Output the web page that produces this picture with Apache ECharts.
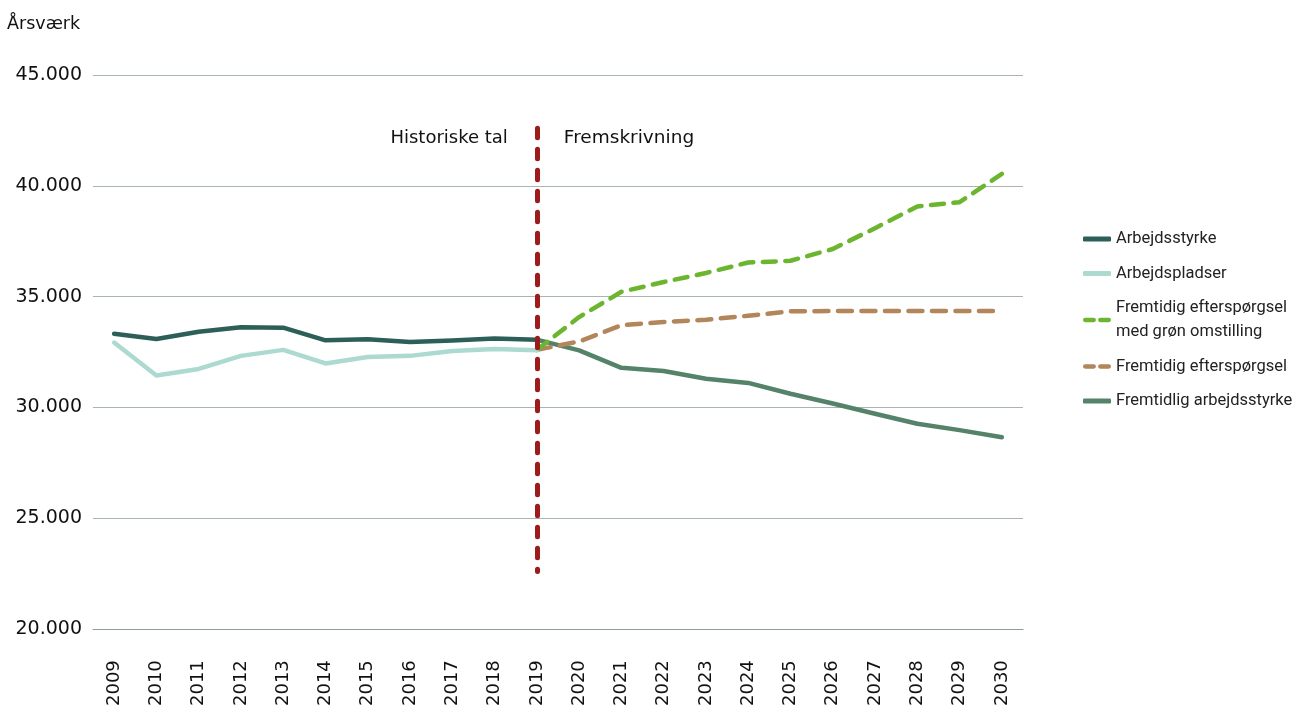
<!DOCTYPE html>
<html>
<head>
<meta charset="utf-8">
<script src="https://cdn.jsdelivr.net/npm/echarts@6/dist/echarts.min.js"></script>
<style>html,body{margin:0;padding:0;background:#fff}#c{width:1309px;height:709px}</style>
</head>
<body>
<div id="c"></div>
<script>
const years = ['2009','2010','2011','2012','2013','2014','2015','2016','2017','2018','2019','2020','2021','2022','2023','2024','2025','2026','2027','2028','2029','2030'];
const arbejdsstyrke = [33330,33090,33420,33620,33600,33030,33080,32960,33020,33110,33060,null,null,null,null,null,null,null,null,null,null,null];
const arbejdspladser = [32930,31440,31740,32330,32600,31990,32280,32330,32550,32640,32580,null,null,null,null,null,null,null,null,null,null,null];
const groenEfterspoergsel = [null,null,null,null,null,null,null,null,null,null,32600,34080,35220,35660,36070,36540,36620,37150,38090,39070,39260,40540];
const efterspoergsel = [null,null,null,null,null,null,null,null,null,null,32600,32980,33710,33860,33960,34140,34340,34350,34350,34350,34350,34350];
const fremtidigArbejdsstyrke = [null,null,null,null,null,null,null,null,null,null,33060,32580,31790,31650,31300,31110,30620,30180,29720,29270,28980,28660];
const seriesNames = ['Arbejdsstyrke','Arbejdspladser','Fremtidig efterspørgsel\nmed grøn omstilling','Fremtidig efterspørgsel','Fremtidlig arbejdsstyrke'];
const yTicks = {min:20000, max:45000, interval:5000};
const dividerYear = '2019';
const dividerRange = [42600, 22600];
const annotLeft = 'Historiske tal';
const annotRight = 'Fremskrivning';
const yName = 'Årsværk';

const colors = ['#2c5f57','#acdad0','#6cb52f','#b2855a','#55836a'];
const fmt = v => String(v).replace(/\B(?=(\d{3})+(?!\d))/g, '.');
const chart = echarts.init(document.getElementById('c'));
const dashIcon = 'path://M2,0H10A2,2 0 0 1 10,4H2A2,2 0 0 1 2,0Z M16,0H24A2,2 0 0 1 24,4H16A2,2 0 0 1 16,0Z';
function line(name, data, color, dash, extra){
  return Object.assign({
    name, type:'line', data, symbol:'none', silent:true, connectNulls:false,
    lineStyle:{color, width:4.5, type: dash || 'solid', cap:'round', join:'round'},
    itemStyle:{color}, z: 3
  }, extra||{});
}
chart.setOption({
  animation:false,
  grid:{left:93, right:286, top:75, bottom:79},
  legend:{
    orient:'vertical', left:1078, top:222, itemWidth:28, itemHeight:5, itemGap:10.5,
    textStyle:{fontFamily:'Roboto', fontSize:16.5, color:'#222', lineHeight:24},
    data:[
      {name:seriesNames[0], icon:'roundRect'},
      {name:seriesNames[1], icon:'roundRect'},
      {name:seriesNames[2], icon:dashIcon},
      {name:seriesNames[3], icon:dashIcon},
      {name:seriesNames[4], icon:'roundRect'}
    ]
  },
  xAxis:{
    type:'category', data:years, boundaryGap:true,
    axisLine:{show:true, lineStyle:{color:'#8e9c9a', width:1.2}}, axisTick:{show:false},
    axisLabel:{rotate:90, margin:31, fontFamily:'DejaVu Sans', fontSize:18, color:'#111', interval:0}
  },
  yAxis:{
    type:'value', min:yTicks.min, max:yTicks.max, interval:yTicks.interval,
    axisLine:{show:false}, axisTick:{show:false},
    splitLine:{lineStyle:{color:'#a9b5b3', width:1.2}},
    axisLabel:{formatter:fmt, margin:11, fontFamily:'DejaVu Sans', fontSize:19, color:'#111'}
  },
  series:[
    line(seriesNames[4], fremtidigArbejdsstyrke, colors[4]),
    line(seriesNames[3], efterspoergsel, colors[3], [14,9.5]),
    line(seriesNames[2], groenEfterspoergsel, colors[2], [13,9.5]),
    line(seriesNames[1], arbejdspladser, colors[1]),
    line(seriesNames[0], arbejdsstyrke, colors[0], null, {
      markLine:{
        silent:true, symbol:['none','none'], z:10,
        label:{show:false},
        lineStyle:{color:'#9c1b1b', width:5, type:[9.5,11.5], cap:'round'},
        data:[[{coord:[dividerYear, dividerRange[0]]},{coord:[dividerYear, dividerRange[1]]}]]
      }
    })
  ]
});
const p = chart.convertToPixel({xAxisIndex:0, yAxisIndex:0}, [dividerYear, dividerRange[0]]);
chart.setOption({
  graphic:[
    {type:'text', left:7, top:15, style:{text:yName, fontFamily:'DejaVu Sans', fontSize:17.5, fill:'#111'}},
    {type:'text', x:p[0]-29, y:p[1]+10, style:{text:annotLeft, align:'right', verticalAlign:'middle', fontFamily:'DejaVu Sans', fontSize:18, fill:'#111'}},
    {type:'text', x:p[0]+27, y:p[1]+10, style:{text:annotRight, align:'left', verticalAlign:'middle', fontFamily:'DejaVu Sans', fontSize:18.5, fill:'#111'}}
  ]
});
</script>
</body>
</html>
